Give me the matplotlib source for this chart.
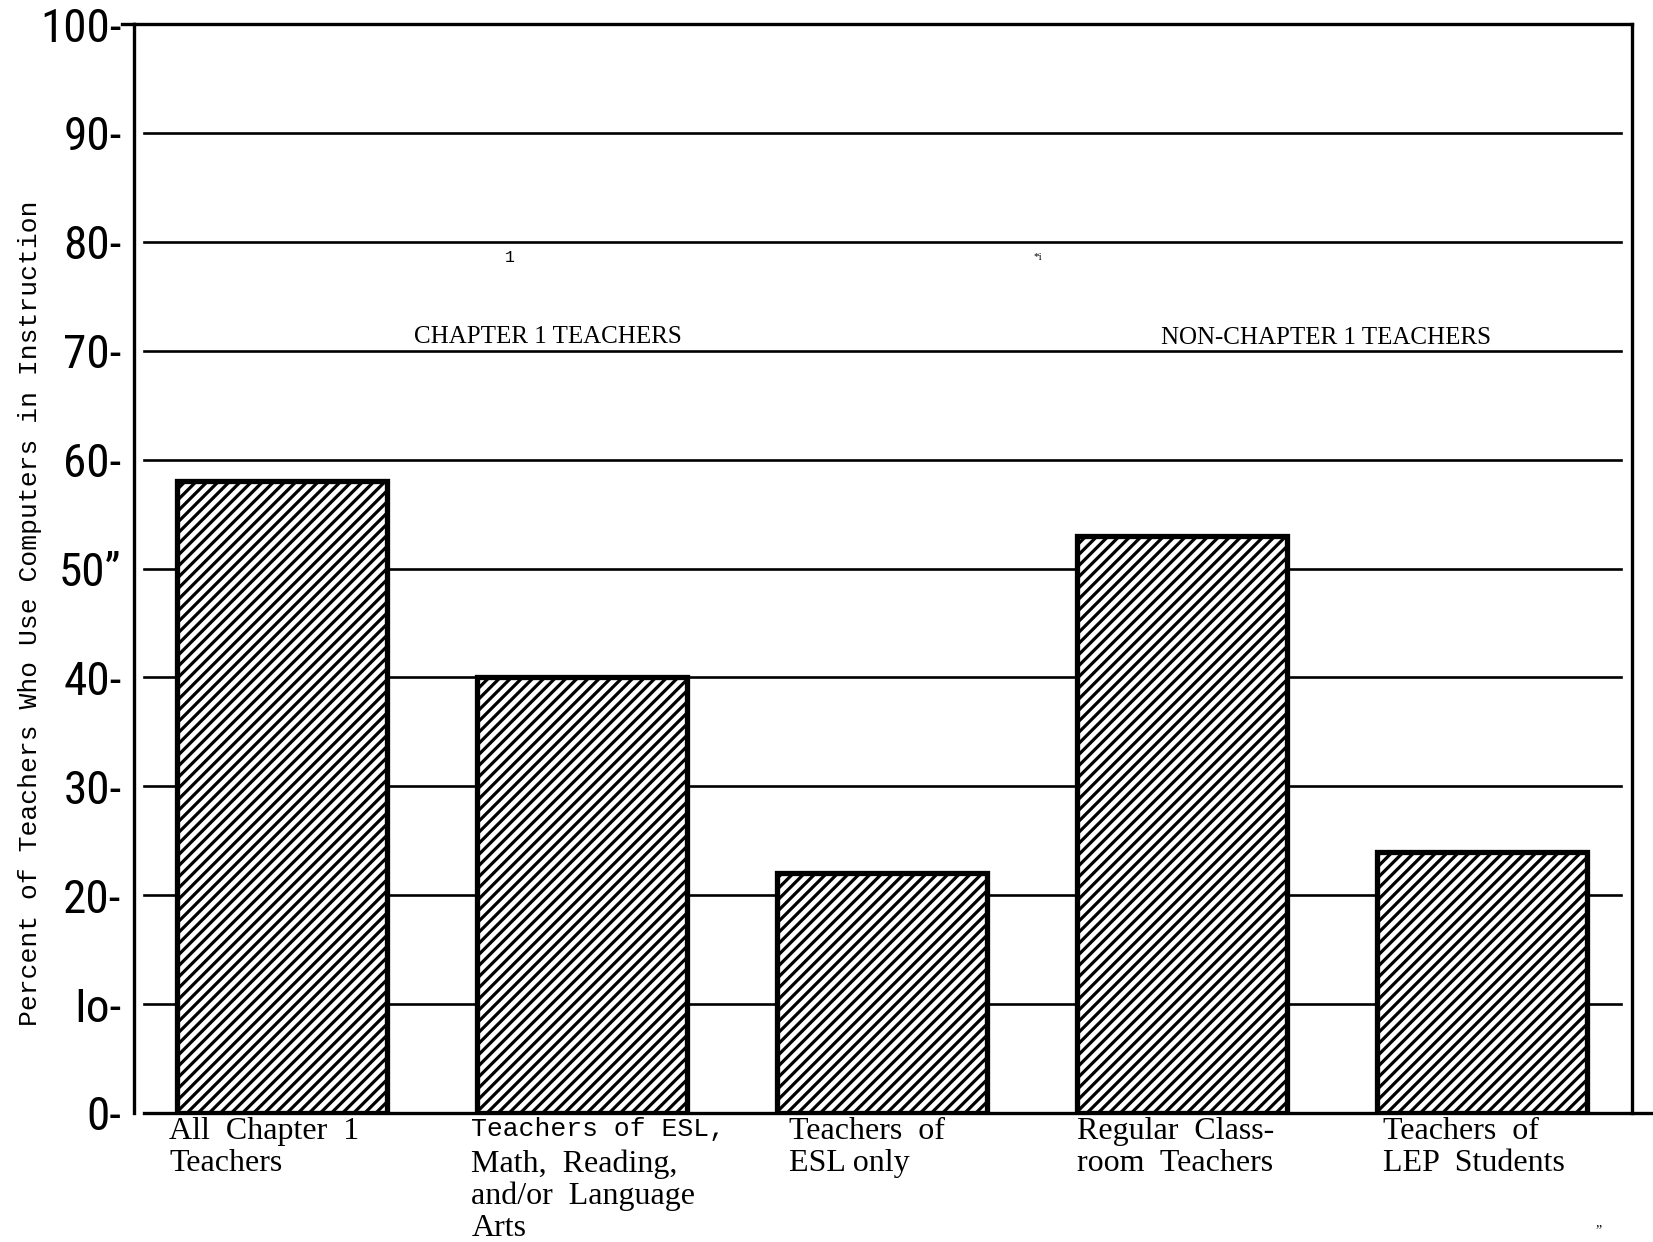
import matplotlib
matplotlib.use("Agg")
import matplotlib.pyplot as plt
from matplotlib import font_manager
from matplotlib.lines import Line2D

# ---------------- data ----------------
categories = [
    "All Chapter 1 Teachers",
    "Teachers of ESL, Math, Reading, and/or Language Arts",
    "Teachers of ESL only",
    "Regular Classroom Teachers",
    "Teachers of LEP Students",
]
values = [58, 40, 22, 53, 24]
tick_values = [0, 10, 20, 30, 40, 50, 60, 70, 80, 90, 100]
tick_labels = ["0-", "Io-", "20-", "30-", "40-", "50\u201d", "60-", "70-", "80-", "90-", "100-"]
# label lines per bar: (text, font kind)
label_lines = [
    [("All  Chapter  1", "serif"), ("Teachers", "serif")],
    [("Teachers of ESL,", "mono"), ("Math,  Reading,", "serif"),
     ("and/or  Language", "serif"), ("Arts", "serif")],
    [("Teachers  of", "serif"), ("ESL only", "serif")],
    [("Regular  Class-", "serif"), ("room  Teachers", "serif")],
    [("Teachers  of", "serif"), ("LEP  Students", "serif")],
]
group_labels = ["CHAPTER 1 TEACHERS", "NON-CHAPTER 1 TEACHERS"]
y_label = "Percent of Teachers Who Use Computers in Instruction"

# ---------------- fonts ----------------
avail = {f.name for f in font_manager.fontManager.ttflist}
def pick(*names):
    for n in names:
        if n in avail:
            return n
    return "DejaVu Sans"
NARROW = pick("Liberation Sans Narrow", "Roboto Condensed", "Liberation Sans")
SERIF = pick("Liberation Serif", "DejaVu Serif")
MONO = pick("Liberation Mono", "DejaVu Sans Mono")

plt.rcParams["hatch.linewidth"] = 2.3

fig = plt.figure(figsize=(16.53, 12.42), dpi=100)
ax = fig.add_axes([134 / 1653, 1 - 1113 / 1242, (1632 - 134) / 1653, (1113 - 24) / 1242])

x = list(range(len(values)))
width = 0.70
ax.set_xlim(-0.495, 4.50)
ax.set_ylim(0, 100)

# gridlines (behind bars)
for t in tick_values[1:-1]:
    ax.axhline(t, xmin=0.0067, xmax=0.9927, color="black", lw=1.9, zorder=1)

ax.bar(x, values, width=width, color="white", edgecolor="black",
       linewidth=3.8, hatch="///", zorder=3)

# spines
for s in ["left", "right", "top"]:
    ax.spines[s].set_linewidth(2.4)
ax.spines["bottom"].set_visible(False)
ax.add_line(Line2D([0.0067, 1.014], [0, 0], transform=ax.transAxes,
                   color="black", lw=2.4, clip_on=False, zorder=4))
ax.add_line(Line2D([-0.008, 0], [1, 1], transform=ax.transAxes,
                   color="black", lw=2.4, clip_on=False, zorder=4))

ax.set_yticks(tick_values)
ax.set_yticklabels(tick_labels, fontfamily=NARROW, fontsize=34)
ax.tick_params(axis="y", length=0, pad=9)
ax.set_xticks([])

# category labels under bars
offsets = [-0.027, -0.02, 0.04, 0.0, 0.02]
line_h = 2.95
for i, lines in enumerate(label_lines):
    x0 = x[i] - width / 2 + offsets[i]
    for j, (txt, kind) in enumerate(lines):
        fam = MONO if kind == "mono" else SERIF
        fs = 19 if kind == "mono" else 23
        ax.text(x0, -0.4 - j * line_h, txt, ha="left", va="top",
                fontfamily=fam, fontsize=fs, clip_on=False)

# group labels
ax.text(0.885, 71.3, group_labels[0], ha="center", va="center",
        fontfamily=SERIF, fontsize=18)
ax.text(3.478, 71.2, group_labels[1], ha="center", va="center",
        fontfamily=SERIF, fontsize=18)

# stray marks from the scan
ax.text(0.758, 78.6, "1", ha="center", va="center", fontfamily=MONO, fontsize=12)
ax.text(2.52, 78.6, "*i", ha="center", va="center", fontfamily=SERIF, fontsize=8)
fig.text(0.967, 0.004, "\u201d", ha="center", va="bottom", fontfamily=SERIF, fontsize=10)

fig.text(0.018, 0.506, y_label, rotation=90, ha="center", va="center",
         fontfamily=MONO, fontsize=19)

fig.savefig("out.png", dpi=100, facecolor="white")
